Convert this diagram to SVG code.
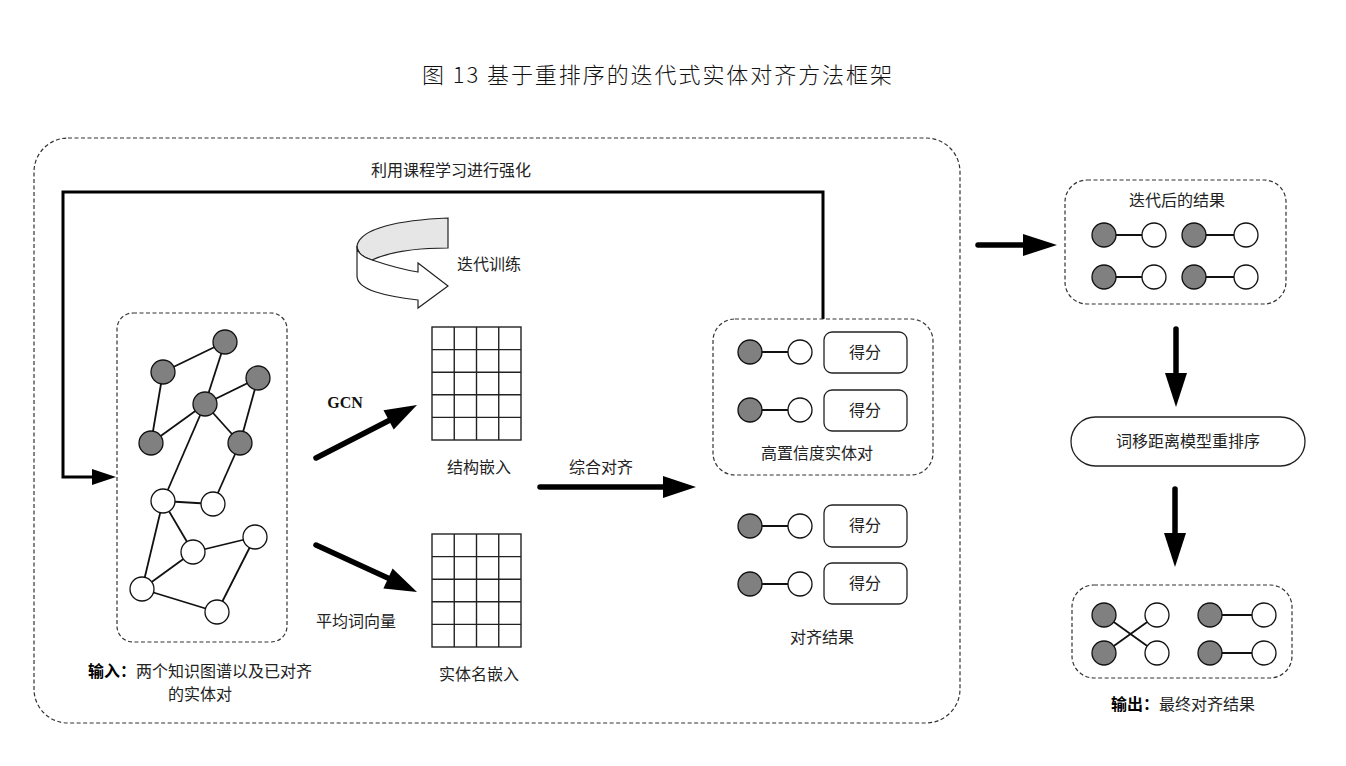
<svg xmlns="http://www.w3.org/2000/svg" width="1346" height="766" viewBox="0 0 1346 766">
<defs>
<style>
.t{font-family:"Noto Sans CJK SC","Liberation Sans",sans-serif;font-size:16px;fill:#222;text-anchor:middle}
.dash{fill:none;stroke:#333;stroke-width:1.2;stroke-dasharray:4 2.5}
.g{fill:#808080;stroke:#111;stroke-width:1.3}
.w{fill:#fff;stroke:#111;stroke-width:1.3}
.e{stroke:#111;stroke-width:1.8;fill:none}
.box{fill:#fff;stroke:#222;stroke-width:1.3}
.fat{stroke:#000;stroke-width:5.5;stroke-linecap:round;fill:none}
.head{fill:#000}
.grid{stroke:#222;stroke-width:1.4;fill:none}
</style>
</defs>
<rect width="1346" height="766" fill="#fff"/>
<text x="422" y="83" textLength="470" lengthAdjust="spacing" style="font-family:'Noto Sans CJK SC','Liberation Serif',serif;font-size:22px;font-weight:300;fill:#111">图 13  基于重排序的迭代式实体对齐方法框架</text>

<g id="frame">
<rect x="34" y="138" width="926" height="585" rx="34" class="dash"/>
</g>

<g id="connectors">
<path d="M823,319 V192 H63 V477 H93" stroke="#000" stroke-width="3" fill="none"/>
<polygon class="head" points="92,469 116,477 92,485"/>
<line class="fat" x1="316" y1="458" x2="390" y2="420"/>
<polygon class="head" points="417,405 393.7,429.6 383.5,410.2"/>
<line class="fat" x1="316" y1="545" x2="390" y2="579"/>
<polygon class="head" points="417,592 383.4,588.5 392.6,568.5"/>
<line class="fat" x1="540" y1="487" x2="665" y2="487"/>
<polygon class="head" points="696,487 663,476 663,498"/>
<line class="fat" x1="978" y1="245" x2="1025" y2="245"/>
<polygon class="head" points="1057,245 1023,234 1023,256"/>
<line class="fat" x1="1176" y1="329" x2="1176" y2="375"/>
<polygon class="head" points="1176,407 1165,373 1187,373"/>
<line class="fat" x1="1175" y1="489" x2="1175" y2="535"/>
<polygon class="head" points="1175,567 1164,533 1186,533"/>
<text class="t" x="451" y="176">利用课程学习进行强化</text>
<text x="345" y="408" style="font-family:'Liberation Serif',serif;font-size:16px;font-weight:bold;fill:#111;text-anchor:middle">GCN</text>
<text class="t" x="356" y="627">平均词向量</text>
<text class="t" x="601" y="473">综合对齐</text>
</g>

<g id="iter-train">
<path d="M357,246 C360,228 400,220 448,218 L448,248 C410,248 385,254 372,260 C364,258 357,253 357,246 Z" fill="#e6e6e6" stroke="#222" stroke-width="1.2"/>
<path d="M357,246 C357,253 364,258 372,260 C390,266 405,270 418,272 L418,263 L448,286 L418,308 L418,300 C385,296 357,290 357,276 Z" fill="#fff" stroke="#222" stroke-width="1.2"/>
<text class="t" x="489" y="270">迭代训练</text>
</g>

<g id="input-graphs">
<rect x="117" y="313" width="170" height="329" rx="16" class="dash"/>
<g>
<line class="e" x1="225" y1="342" x2="163" y2="372"/>
<line class="e" x1="225" y1="342" x2="205" y2="404"/>
<line class="e" x1="205" y1="404" x2="258" y2="378"/>
<line class="e" x1="205" y1="404" x2="151" y2="443"/>
<line class="e" x1="163" y1="372" x2="151" y2="443"/>
<line class="e" x1="205" y1="404" x2="240" y2="443"/>
<line class="e" x1="258" y1="378" x2="240" y2="443"/>
<line class="e" x1="205" y1="404" x2="163" y2="501"/>
<line class="e" x1="240" y1="443" x2="213" y2="504"/>
<line class="e" x1="163" y1="501" x2="213" y2="504"/>
<line class="e" x1="163" y1="501" x2="193" y2="552"/>
<line class="e" x1="163" y1="501" x2="142" y2="589"/>
<line class="e" x1="193" y1="552" x2="255" y2="537"/>
<line class="e" x1="193" y1="552" x2="142" y2="589"/>
<line class="e" x1="142" y1="589" x2="217" y2="612"/>
<line class="e" x1="217" y1="612" x2="255" y2="537"/>
</g>
<circle class="g" cx="225" cy="342" r="12"/>
<circle class="g" cx="163" cy="372" r="12"/>
<circle class="g" cx="258" cy="378" r="12"/>
<circle class="g" cx="205" cy="404" r="12"/>
<circle class="g" cx="151" cy="443" r="12"/>
<circle class="g" cx="240" cy="443" r="12"/>
<circle class="w" cx="163" cy="501" r="12"/>
<circle class="w" cx="213" cy="504" r="12"/>
<circle class="w" cx="193" cy="552" r="12"/>
<circle class="w" cx="255" cy="537" r="12"/>
<circle class="w" cx="142" cy="589" r="12"/>
<circle class="w" cx="217" cy="612" r="12"/>
<text class="t" x="200" y="677"><tspan font-weight="bold" fill="#000">输入：</tspan>两个知识图谱以及已对齐</text>
<text class="t" x="200" y="700">的实体对</text>
</g>

<g id="struct-embed">
<rect x="432" y="327" width="89" height="113" class="grid"/>
<path class="grid" d="M454.25,327V440M476.5,327V440M498.75,327V440M432,349.6H521M432,372.2H521M432,394.8H521M432,417.4H521"/>
<text class="t" x="479" y="473">结构嵌入</text>
</g>

<g id="name-embed">
<rect x="432" y="534" width="89" height="113" class="grid"/>
<path class="grid" d="M454.25,534V647M476.5,534V647M498.75,534V647M432,556.6H521M432,579.2H521M432,601.8H521M432,624.4H521"/>
<text class="t" x="479" y="680">实体名嵌入</text>
</g>

<g id="high-conf">
<rect x="713" y="319" width="220" height="156" rx="22" class="dash"/>
<line class="e" x1="750" y1="352" x2="800" y2="352"/>
<circle class="g" cx="750" cy="352" r="12"/>
<circle class="w" cx="800" cy="352" r="12"/>
<rect class="box" x="824" y="332" width="83" height="41" rx="8"/>
<text class="t" x="865" y="358">得分</text>
<line class="e" x1="750" y1="410" x2="800" y2="410"/>
<circle class="g" cx="750" cy="410" r="12"/>
<circle class="w" cx="800" cy="410" r="12"/>
<rect class="box" x="824" y="390" width="83" height="41" rx="8"/>
<text class="t" x="865" y="416">得分</text>
<text class="t" x="817" y="459">高置信度实体对</text>
</g>

<g id="align-result">
<line class="e" x1="750" y1="526" x2="800" y2="526"/>
<circle class="g" cx="750" cy="526" r="12"/>
<circle class="w" cx="800" cy="526" r="12"/>
<rect class="box" x="824" y="505" width="83" height="42" rx="8"/>
<text class="t" x="865" y="531">得分</text>
<line class="e" x1="750" y1="584" x2="800" y2="584"/>
<circle class="g" cx="750" cy="584" r="12"/>
<circle class="w" cx="800" cy="584" r="12"/>
<rect class="box" x="824" y="563" width="83" height="41" rx="8"/>
<text class="t" x="865" y="589">得分</text>
<text class="t" x="822" y="643">对齐结果</text>
</g>

<g id="iter-result">
<rect x="1065" y="180" width="221" height="124" rx="22" class="dash"/>
<text class="t" x="1177" y="206">迭代后的结果</text>
<line class="e" x1="1104" y1="235" x2="1154" y2="235"/>
<line class="e" x1="1194" y1="235" x2="1246" y2="235"/>
<line class="e" x1="1104" y1="277" x2="1154" y2="277"/>
<line class="e" x1="1194" y1="277" x2="1246" y2="277"/>
<circle class="g" cx="1104" cy="235" r="12"/>
<circle class="w" cx="1154" cy="235" r="12"/>
<circle class="g" cx="1194" cy="235" r="12"/>
<circle class="w" cx="1246" cy="235" r="12"/>
<circle class="g" cx="1104" cy="277" r="12"/>
<circle class="w" cx="1154" cy="277" r="12"/>
<circle class="g" cx="1194" cy="277" r="12"/>
<circle class="w" cx="1246" cy="277" r="12"/>
</g>

<g id="rerank">
<rect class="box" x="1071" y="417" width="234" height="49" rx="24.5"/>
<text class="t" x="1188" y="447">词移距离模型重排序</text>
</g>

<g id="final-output">
<rect x="1072" y="585" width="220" height="93" rx="22" class="dash"/>
<line class="e" x1="1104" y1="615" x2="1157" y2="653"/>
<line class="e" x1="1104" y1="653" x2="1157" y2="615"/>
<line class="e" x1="1210" y1="615" x2="1264" y2="615"/>
<line class="e" x1="1210" y1="653" x2="1264" y2="653"/>
<circle class="g" cx="1104" cy="615" r="12"/>
<circle class="w" cx="1157" cy="615" r="12"/>
<circle class="g" cx="1104" cy="653" r="12"/>
<circle class="w" cx="1157" cy="653" r="12"/>
<circle class="g" cx="1210" cy="615" r="12"/>
<circle class="w" cx="1264" cy="615" r="12"/>
<circle class="g" cx="1210" cy="653" r="12"/>
<circle class="w" cx="1264" cy="653" r="12"/>
<text class="t" x="1183" y="710"><tspan font-weight="bold" fill="#000">输出：</tspan>最终对齐结果</text>
</g>
</svg>
